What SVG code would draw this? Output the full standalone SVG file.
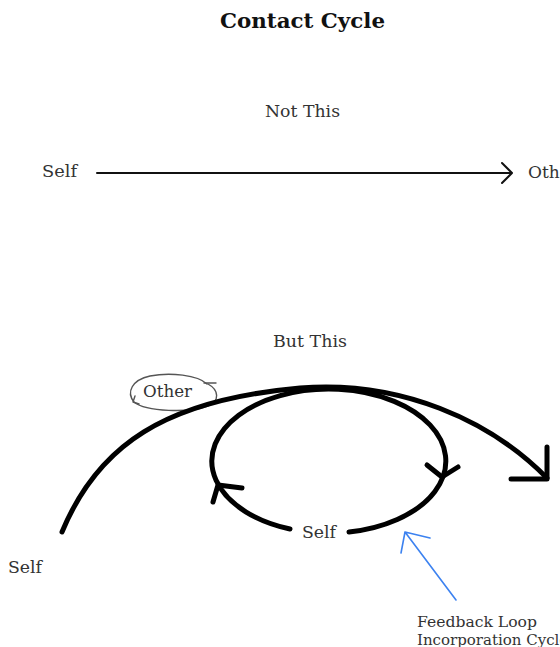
<svg xmlns="http://www.w3.org/2000/svg" width="560" height="647" viewBox="0 0 560 647">
<style>
text{font-family:"DejaVu Serif","Liberation Serif",serif;fill:#333;font-size:17px}
.title{font-weight:bold;font-size:20px;fill:#111}
.small{font-size:15px}
.thick{fill:none;stroke:#000;stroke-width:5;stroke-linecap:round;stroke-linejoin:round}
.thin{fill:none;stroke:#111;stroke-width:2;stroke-linecap:round;stroke-linejoin:round}
.blue{fill:none;stroke:#3c82f0;stroke-width:1.6;stroke-linecap:round;stroke-linejoin:round}
.gray{fill:none;stroke:#555;stroke-width:1.4;stroke-linecap:round}
</style>
<rect width="560" height="647" fill="#fff"/>
<g id="title"><text class="title" x="220" y="28" textLength="165" lengthAdjust="spacingAndGlyphs">Contact Cycle</text></g>
<g id="label-not-this"><text x="265" y="117" textLength="75" lengthAdjust="spacingAndGlyphs">Not This</text></g>
<g id="node-self-top"><text x="42" y="177" textLength="35" lengthAdjust="spacingAndGlyphs">Self</text></g>
<g id="node-other-top"><text x="528" y="178">Other</text></g>
<g id="label-but-this"><text x="273" y="347" textLength="74" lengthAdjust="spacingAndGlyphs">But This</text></g>
<g id="node-other-bubble">
<path class="gray" d="M207,384 C198,375 170,372 150,376 C132,380 126,392 134,402 C146,412 190,413 208,406 C220,401 219,390 208,384"/>
<path class="gray" d="M204,383 L216,383 M133,402 L139,404 M133,402 L135,396"/>
<text x="143" y="397" textLength="49" lengthAdjust="spacingAndGlyphs" style="font-size:16px">Other</text>
</g>
<g id="node-self-bottom-left"><text x="8" y="573" textLength="34" lengthAdjust="spacingAndGlyphs" style="font-size:16px">Self</text></g>
<g id="node-self-inner"><text x="302" y="538" textLength="34" lengthAdjust="spacingAndGlyphs" style="font-size:16px">Self</text></g>
<g id="label-feedback">
<text class="small" x="417" y="627" textLength="120" lengthAdjust="spacingAndGlyphs">Feedback Loop</text>
<text class="small" x="417" y="645">Incorporation Cycle</text>
</g>
<g id="connectors">
<path class="thin" d="M97,173 L511,173 M502,163 L512,173 L502,183"/>
<path class="thick" d="M62,532 C98,445 165,400 300,388 C400,380 490,420 547,478"/>
<path class="thick" d="M547,447 L547,479 L511,479" stroke-linecap="butt" stroke-width="4"/>
<path class="thick" d="M290,529 A117,72 0 1 1 349,532" stroke-width="4.5"/>
<path class="thick" d="M427,465 L442,477 L458,467" stroke-width="4"/>
<path class="thick" d="M242,488 L218,485 L213,502" stroke-width="4"/>
<path class="blue" d="M456,600 L405,532 M430,538 L405,532 L401,553"/>
</g>
</svg>
